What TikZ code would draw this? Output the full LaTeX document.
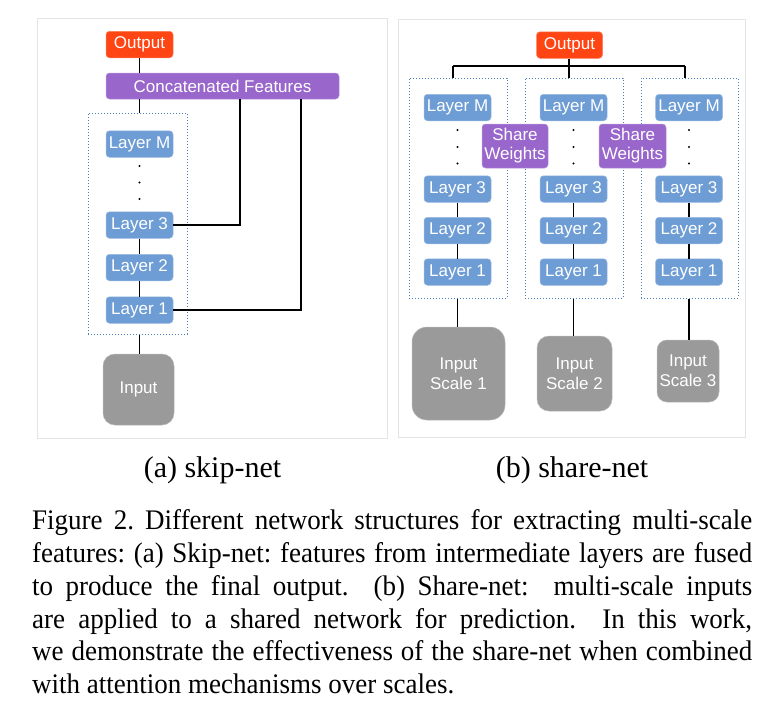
\documentclass[tikz,border=0pt]{standalone}
\usepackage{graphicx}
\usepackage{fontspec}
\setmainfont{Liberation Serif}
\newfontfamily\diagfont{Liberation Sans}
\definecolor{outc}{HTML}{FF4513}
\definecolor{purc}{HTML}{9966CC}
\definecolor{layc}{HTML}{6D9DD4}
\definecolor{inc}{HTML}{9A9A9A}
\definecolor{dotc}{HTML}{4A7EBB}
\definecolor{panc}{HTML}{E4E4E4}
\newcommand{\capline}[1]{\scalebox{1}[1.05]{\makebox[720pt][s]{#1}}}
\begin{document}
\frenchspacing
\begin{tikzpicture}[x=1pt,y=-1pt,
  box/.style={rounded corners=3.5pt, inner sep=0pt, text=white, align=center,
    font=\diagfont\fontsize{17}{19}\selectfont, line width=0.5pt},
  layer/.style={box, fill=layc, draw=layc!70!white, minimum width=67pt, minimum height=26.5pt},
  outbox/.style={box, fill=outc, draw=outc!70!white, minimum width=67pt, minimum height=26.5pt},
  purbox/.style={box, fill=purc, draw=purc!70!white},
  inbox/.style={box, fill=inc, draw=inc!70!white, font=\diagfont\fontsize{17}{20}\selectfont},
  group/.style={draw=dotc, dotted, line width=1pt, inner sep=0pt},
  link/.style={line width=1.4pt, black},
  vdot/.style={fill=black, circle, inner sep=0pt, minimum size=2.4pt},
  panel/.style={draw=panc, line width=1pt},
  captext/.style={anchor=base west, inner sep=0pt, font=\fontsize{27}{33}\selectfont},
  subcaptext/.style={anchor=base, inner sep=0pt, font=\fontsize{30}{33}\selectfont}
]
\useasboundingbox (0,0) rectangle (768,716);
\fill[white] (0,0) rectangle (768,716);

% ---------- panel (a) ----------
\draw[panel] (37,18) rectangle (387,438);
\node[group, minimum width=99pt, minimum height=221pt] (gL) at (137.5,223.5) {};
\node[outbox] (oL) at (139.5,44.5) {Output};
\node[purbox, minimum width=233pt, minimum height=26pt] (cf) at (222.5,86) {Concatenated Features};
\node[layer] (aM) at (139.5,144) {Layer M};
\node[layer] (a3) at (139.5,225) {Layer 3};
\node[layer] (a2) at (139.5,267.5) {Layer 2};
\node[layer] (a1) at (139.5,310) {Layer 1};
\node[inbox, minimum width=71pt, minimum height=71pt, rounded corners=12pt] (aIn) at (138.5,389.5) {Input};
\node[vdot] (ad1) at (139.5,166) {};
\node[vdot] (ad2) at (139.5,182.5) {};
\node[vdot] (ad3) at (139.5,199) {};
\coordinate (k3) at (240,99);
\coordinate (k1) at (301,99);
\draw[link] (oL.south) -- (oL.south |- cf.north);
\draw[link] (cf.south -| oL) -- (gL.north -| oL);
\draw[link] (a3.east) -| (k3);
\draw[link] (a1.east) -| (k1);
\draw[link] (a3) -- (a2);
\draw[link] (a2) -- (a1);
\draw[link] (gL.south -| a1) -- (aIn.north -| a1);

% ---------- panel (b) ----------
\draw[panel] (398,19) rectangle (745,437);
\node[group, minimum width=98pt, minimum height=220pt] (g1) at (458,188) {};
\node[group, minimum width=98pt, minimum height=220pt] (g2) at (574,188) {};
\node[group, minimum width=97pt, minimum height=220pt] (g3) at (689.5,188) {};
\node[outbox, minimum width=66pt] (oR) at (569.5,45) {Output};
\coordinate (j1) at (453,66);
\coordinate (j2) at (569,66);
\coordinate (j3) at (685,66);
\draw[link] (oR.south -| j2) -- (j2);
\draw[link] (j1) -- (j3);
\draw[link] (j1) -- (j1 |- g1.north);
\draw[link] (j2) -- (j2 |- g2.north);
\draw[link] (j3) -- (j3 |- g3.north);

\foreach \c/\x in {1/457.5, 2/573.5, 3/689}{
  \node[layer] (bM\c) at (\x,107.5) {Layer M};
  \node[layer] (b3\c) at (\x,189) {Layer 3};
  \node[layer] (b2\c) at (\x,230.5) {Layer 2};
  \node[layer] (b1\c) at (\x,272) {Layer 1};
  \node[vdot] (bd1\c) at (\x,130) {};
  \node[vdot] (bd2\c) at (\x,147) {};
  \node[vdot] (bd3\c) at (\x,163.5) {};
  \draw[link] (b3\c) -- (b2\c);
  \draw[link] (b2\c) -- (b1\c);
}
\node[purbox, minimum width=66pt, minimum height=44pt] (sw1) at (515,146) {Share\\Weights};
\node[purbox, minimum width=67pt, minimum height=44pt] (sw2) at (632.5,146) {Share\\Weights};

\node[inbox, minimum width=93pt, minimum height=93pt, rounded corners=15pt] (in1) at (458.5,373.5) {Input\\Scale 1};
\node[inbox, minimum width=75pt, minimum height=75pt, rounded corners=12pt] (in2) at (574.5,373.5) {Input\\Scale 2};
\node[inbox, minimum width=62pt, minimum height=62pt, rounded corners=10pt] (in3) at (688,371) {Input\\Scale 3};
\draw[link] (g1.south -| b11) -- (in1.north -| b11);
\draw[link] (g2.south -| b12) -- (in2.north -| b12);
\draw[link] (g3.south -| b13) -- (in3.north -| b13);

% ---------- captions ----------
\node[subcaptext] (sa) at (212.5,477) {(a) skip-net};
\node[subcaptext] (sb) at (572,477) {(b) share-net};
\node[captext] (c1) at (32,529) {\capline{Figure 2. Different network structures for extracting multi-scale}};
\node[captext] (c2) at (32,562) {\capline{features: (a) Skip-net: features from intermediate layers are fused}};
\node[captext] (c3) at (32,595) {\capline{to produce the final output.\ \ (b) Share-net:\ \ multi-scale inputs}};
\node[captext] (c4) at (32,628) {\capline{are applied to a shared network for prediction.\ \ In this work,}};
\node[captext] (c5) at (32,660.5) {\capline{we demonstrate the effectiveness of the share-net when combined}};
\node[captext] (c6) at (32,693) {\scalebox{1}[1.05]{with attention mechanisms over scales.}};
\end{tikzpicture}
\end{document}
